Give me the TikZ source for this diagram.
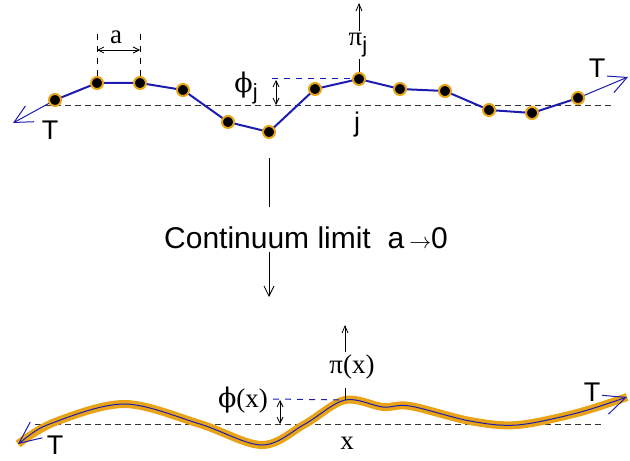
\documentclass[tikz,border=0pt]{standalone}
\usepackage{fontspec}
\setmainfont{Liberation Serif}
\setsansfont{Liberation Sans}
\newfontfamily\grkfont{DejaVu Serif}
\usetikzlibrary{arrows.meta,positioning,calc,backgrounds}
\definecolor{chainblue}{HTML}{1C1CB0}
\definecolor{beadorange}{HTML}{E8A317}
\definecolor{restgray}{HTML}{333333}

\begin{document}
\begin{tikzpicture}[x=0.5pt, y=-0.5pt,
    bead/.style={circle, fill=black, draw=beadorange, line width=1pt, minimum size=6pt, inner sep=0pt},
    links/.style={draw=chainblue, line width=1pt},
    pull/.style={draw=chainblue, line width=0.5pt, -{Straight Barb[length=9pt, width=9pt]}},
    rest/.style={draw=restgray, densely dashed, line width=0.5pt},
    guide/.style={draw=chainblue, dashed, line width=0.5pt},
    dimline/.style={draw=black, line width=0.4pt, {Straight Barb[length=3pt, width=3pt]}-{Straight Barb[length=3pt, width=3pt]}},
    flow/.style={draw=black, line width=0.4pt},
    lbl/.style={inner sep=1pt, font=\sffamily\fontsize{13.5}{15}\selectfont},
    sym/.style={inner sep=1pt, font=\fontsize{13.5}{15}\selectfont},
]
\useasboundingbox (0,0) rectangle (630,460);

% lattice of beads
\foreach \n/\p in {1/{55,100}, 2/{97,83}, 3/{140,83}, 4/{183,90}, 5/{228,122}, 6/{269,132}, 7/{315,89},
                   8/{359,79}, 9/{400,89}, 10/{445,91}, 11/{489,110}, 12/{532,113}, 13/{578,98}}
  \node[bead] (b\n) at (\p) {};

\coordinate (tl) at (13,123);
\coordinate (tr) at (628,77);
\coordinate (l0) at (45,105);
\coordinate (l1) at (612,105);
\coordinate (h0) at (272,79);

\begin{scope}[on background layer]
  \draw[rest] (l0) -- (l1);
  \draw[links] (b1.center) \foreach \n in {2,...,13} { -- (b\n.center) };
  \draw[pull] (b1.center) -- (tl);
  \draw[pull] (b13.center) -- (tr);
  \draw[guide] (h0) -- (b8.center);
\end{scope}

% spacing a
\coordinate (a2) at (97,33);
\coordinate (a3) at (140,33);
\coordinate (d2) at (97,50);
\coordinate (d3) at (140,50);
\draw[dashed, line width=0.4pt] (b2.north) -- (a2);
\draw[dashed, line width=0.4pt] (b3.north) -- (a3);
\draw[dimline] (d2) -- (d3);
\node[sym] (alab) at (116,37) {a};

% field and momentum at site j
\node[sym] (phij) at (246,88) {{\grkfont ϕ}\raisebox{-0.5ex}{\sffamily\fontsize{11}{12}\selectfont j}};
\coordinate (p0) at (276,80);
\coordinate (p1) at (276,105);
\draw[dimline] (p0) -- (p1);
\node[sym] (pij) at (358,45) {π\raisebox{-0.5ex}{\sffamily\fontsize{11}{12}\selectfont j}};
\coordinate (pt) at (359,3);
\draw[flow] (b8.north) -- (b8.north |- pij.south);
\draw[flow, -{Straight Barb[length=3.5pt, width=3pt]}] (pij.north -| b8) -- (pt);
\node[lbl] (jlab) at (357,125) {j};
\node[lbl] (tleft) at (50,130) {T};
\node[lbl] (tright) at (597,68) {T};

% continuum limit
\node[font=\sffamily\fontsize{15}{18}\selectfont] (limit) at (306,238) {Continuum limit\ \ a\,$\scriptstyle\rightarrow$0};
\coordinate (m0) at (269,158);
\coordinate (m1) at (269,207);
\coordinate (m2) at (269,252);
\coordinate (m3) at (269,297);
\draw[flow] (m0) -- (m1);
\draw[flow, -{Straight Barb[length=5pt, width=5pt]}] (m2) -- (m3);

% continuous string
\coordinate (k0) at (35,424);
\coordinate (k1) at (603,424);
\draw[rest] (k0) -- (k1);
\draw[draw=chainblue, line width=0.5pt, {Straight Barb[length=11pt, width=10pt]}-{Straight Barb[length=11pt, width=10pt]},
      preaction={draw=beadorange, line width=4pt, arrows=-}]
  plot[smooth, tension=0.55] coordinates {(18,444) (55,422) (125,404) (200,424) (262,445) (305,424) (345,400)
    (383,407) (410,406) (470,421) (517,425) (577,413) (627,397)};

\coordinate (xp) at (345,400);
\coordinate (g0) at (273,399);
\draw[guide] (g0) -- (xp);
\node[sym] (phix) at (243,400) {{\grkfont ϕ}(x)};
\coordinate (q0) at (280,400);
\coordinate (q1) at (280,424);
\draw[dimline] (q0) -- (q1);
\node[sym] (pix) at (352,367) {π(x)};
\coordinate (r0) at (345,388);
\coordinate (r1) at (345,352);
\coordinate (r2) at (345,325);
\draw[flow] (xp) -- (r0);
\draw[flow, -{Straight Barb[length=3.5pt, width=3pt]}] (r1) -- (r2);
\node[sym] (xlab) at (347,443) {x};
\node[lbl] (tbl) at (55,445) {T};
\node[lbl] (tbr) at (592,392) {T};
\end{tikzpicture}
\end{document}
